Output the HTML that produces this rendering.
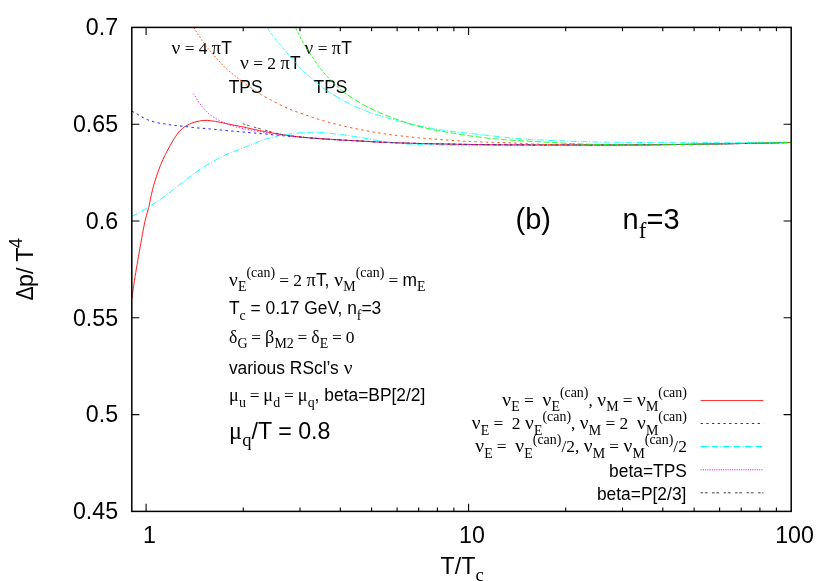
<!DOCTYPE html>
<html><head><meta charset="utf-8"><title>plot</title>
<style>html,body{margin:0;padding:0;background:#fff}body{width:830px;height:581px;overflow:hidden;font-family:"Liberation Sans",sans-serif}text{white-space:pre}.h{font-family:"Liberation Sans",sans-serif}.s{font-family:"Liberation Serif",serif}</style></head>
<body>
<svg width="830" height="581" viewBox="0 0 830 581" style="display:block;will-change:transform">
<rect width="830" height="581" fill="#fff"/>
<g fill="#000">
<text class="h" transform="translate(118.10 35.20) scale(1 1.03)" font-size="23.20" text-anchor="end">0.7</text>
<text class="h" transform="translate(118.10 132.00) scale(1 1.03)" font-size="23.20" text-anchor="end">0.65</text>
<text class="h" transform="translate(118.10 228.80) scale(1 1.03)" font-size="23.20" text-anchor="end">0.6</text>
<text class="h" transform="translate(118.10 325.60) scale(1 1.03)" font-size="23.20" text-anchor="end">0.55</text>
<text class="h" transform="translate(118.10 422.40) scale(1 1.03)" font-size="23.20" text-anchor="end">0.5</text>
<text class="h" transform="translate(118.10 519.20) scale(1 1.03)" font-size="23.20" text-anchor="end">0.45</text>
<text class="h" transform="translate(149.40 542.80) scale(1 1.03)" font-size="23.20" text-anchor="middle">1</text>
<text class="h" transform="translate(471.95 542.80) scale(1 1.03)" font-size="23.20" text-anchor="middle">10</text>
<text class="h" transform="translate(794.50 542.80) scale(1 1.03)" font-size="23.20" text-anchor="middle">100</text>
<text class="h" transform="translate(440.60 574.20) scale(1 1.03)" font-size="23.20" textLength="34.79" lengthAdjust="spacingAndGlyphs">T/T</text>
<text class="s" x="475.39" y="581.16" font-size="18.56">c</text>
<text class="s" x="171.49" y="54.10" font-size="18.79" textLength="8.79" lengthAdjust="spacingAndGlyphs">ν</text>
<text class="s" x="184.69" y="54.10" font-size="17.40">=</text>
<text class="s" x="198.72" y="54.10" font-size="17.40">4</text>
<text class="s" x="211.86" y="54.10" font-size="18.79" textLength="9.27" lengthAdjust="spacingAndGlyphs">π</text>
<text class="h" transform="translate(221.32 54.10) scale(1 1.03)" font-size="17.40">T</text>
<text class="s" x="240.09" y="69.00" font-size="18.79" textLength="8.79" lengthAdjust="spacingAndGlyphs">ν</text>
<text class="s" x="253.29" y="69.00" font-size="17.40">=</text>
<text class="s" x="267.32" y="69.00" font-size="17.40">2</text>
<text class="s" x="280.46" y="69.00" font-size="18.79" textLength="9.27" lengthAdjust="spacingAndGlyphs">π</text>
<text class="h" transform="translate(289.92 69.00) scale(1 1.03)" font-size="17.40">T</text>
<text class="s" x="304.49" y="54.10" font-size="18.79" textLength="8.79" lengthAdjust="spacingAndGlyphs">ν</text>
<text class="s" x="317.69" y="54.10" font-size="17.40">=</text>
<text class="s" x="331.81" y="54.10" font-size="18.79" textLength="9.27" lengthAdjust="spacingAndGlyphs">π</text>
<text class="h" transform="translate(341.27 54.10) scale(1 1.03)" font-size="17.40">T</text>
<text class="h" transform="translate(228.70 93.30) scale(1 1.03)" font-size="17.40" textLength="33.84" lengthAdjust="spacingAndGlyphs">TPS</text>
<text class="h" transform="translate(313.60 93.30) scale(1 1.03)" font-size="17.40" textLength="33.84" lengthAdjust="spacingAndGlyphs">TPS</text>
<text class="s" x="228.99" y="285.50" font-size="18.79" textLength="8.79" lengthAdjust="spacingAndGlyphs">ν</text>
<text class="s" x="237.97" y="290.72" font-size="13.92">E</text>
<text class="s" x="246.47" y="276.80" font-size="13.92" textLength="28.59" lengthAdjust="spacingAndGlyphs">(can)</text>
<text class="s" x="279.28" y="285.50" font-size="17.40">=</text>
<text class="s" x="293.31" y="285.50" font-size="17.40">2</text>
<text class="s" x="306.45" y="285.50" font-size="18.79" textLength="9.27" lengthAdjust="spacingAndGlyphs">π</text>
<text class="h" transform="translate(315.91 285.50) scale(1 1.03)" font-size="17.40" textLength="18.37" lengthAdjust="spacingAndGlyphs">T, </text>
<text class="s" x="334.37" y="285.50" font-size="18.79" textLength="8.79" lengthAdjust="spacingAndGlyphs">ν</text>
<text class="s" x="343.35" y="290.72" font-size="13.92">M</text>
<text class="s" x="355.72" y="276.80" font-size="13.92" textLength="28.59" lengthAdjust="spacingAndGlyphs">(can)</text>
<text class="s" x="388.53" y="285.50" font-size="17.40">=</text>
<text class="h" transform="translate(402.56 285.50) scale(1 1.03)" font-size="17.40">m</text>
<text class="s" x="417.06" y="290.72" font-size="13.92">E</text>
<text class="h" transform="translate(228.90 314.30) scale(1 1.03)" font-size="17.40">T</text>
<text class="s" x="239.53" y="319.52" font-size="13.92">c</text>
<text class="h" transform="translate(245.71 314.30) scale(1 1.03)" font-size="17.40" textLength="111.10" lengthAdjust="spacingAndGlyphs"> = 0.17 GeV, n</text>
<text class="s" x="356.80" y="319.52" font-size="13.92">f</text>
<text class="h" transform="translate(361.44 314.30) scale(1 1.03)" font-size="17.40" textLength="19.84" lengthAdjust="spacingAndGlyphs">=3</text>
<text class="s" x="228.99" y="343.10" font-size="18.79" textLength="8.34" lengthAdjust="spacingAndGlyphs">δ</text>
<text class="s" x="237.50" y="348.32" font-size="13.92">G</text>
<text class="s" x="251.33" y="343.10" font-size="17.40">=</text>
<text class="s" x="265.03" y="343.10" font-size="18.79" textLength="9.27" lengthAdjust="spacingAndGlyphs">β</text>
<text class="s" x="274.48" y="348.32" font-size="13.92" textLength="19.34" lengthAdjust="spacingAndGlyphs">M2</text>
<text class="s" x="297.61" y="343.10" font-size="17.40">=</text>
<text class="s" x="311.29" y="343.10" font-size="18.79" textLength="8.34" lengthAdjust="spacingAndGlyphs">δ</text>
<text class="s" x="319.80" y="348.32" font-size="13.92">E</text>
<text class="s" x="332.09" y="343.10" font-size="17.40">=</text>
<text class="s" x="345.68" y="343.10" font-size="17.40">0</text>
<text class="h" transform="translate(228.90 373.50) scale(1 1.03)" font-size="17.40" textLength="114.75" lengthAdjust="spacingAndGlyphs">various RScl’s </text>
<text class="s" x="343.74" y="373.50" font-size="18.79" textLength="8.79" lengthAdjust="spacingAndGlyphs">ν</text>
<text class="s" x="229.00" y="401.40" font-size="18.79" textLength="9.72" lengthAdjust="spacingAndGlyphs">μ</text>
<text class="s" x="238.92" y="406.62" font-size="13.92">u</text>
<text class="s" x="249.67" y="401.40" font-size="17.40">=</text>
<text class="s" x="263.37" y="401.40" font-size="18.79" textLength="9.72" lengthAdjust="spacingAndGlyphs">μ</text>
<text class="s" x="273.29" y="406.62" font-size="13.92">d</text>
<text class="s" x="284.03" y="401.40" font-size="17.40">=</text>
<text class="s" x="297.73" y="401.40" font-size="18.79" textLength="9.72" lengthAdjust="spacingAndGlyphs">μ</text>
<text class="s" x="307.65" y="406.62" font-size="13.92">q</text>
<text class="h" transform="translate(314.61 401.40) scale(1 1.03)" font-size="17.40" textLength="110.76" lengthAdjust="spacingAndGlyphs">, beta=BP[2/2]</text>
<text class="s" x="229.03" y="439.30" font-size="25.06" textLength="12.96" lengthAdjust="spacingAndGlyphs">μ</text>
<text class="s" x="242.26" y="446.26" font-size="18.56">q</text>
<text class="h" transform="translate(251.54 439.30) scale(1 1.03)" font-size="23.20" textLength="78.89" lengthAdjust="spacingAndGlyphs">/T = 0.8</text>
<text class="s" x="502.24" y="406.10" font-size="18.79" textLength="8.79" lengthAdjust="spacingAndGlyphs">ν</text>
<text class="s" x="511.21" y="411.32" font-size="13.92">E</text>
<text class="s" x="523.94" y="406.10" font-size="17.40">=</text>
<text class="s" x="542.41" y="406.10" font-size="18.79" textLength="8.79" lengthAdjust="spacingAndGlyphs">ν</text>
<text class="s" x="551.38" y="411.32" font-size="13.92">E</text>
<text class="s" x="559.89" y="397.40" font-size="13.92" textLength="28.59" lengthAdjust="spacingAndGlyphs">(can)</text>
<text class="s" x="588.47" y="406.10" font-size="17.40">,</text>
<text class="s" x="597.27" y="406.10" font-size="18.79" textLength="8.79" lengthAdjust="spacingAndGlyphs">ν</text>
<text class="s" x="606.24" y="411.32" font-size="13.92">M</text>
<text class="s" x="622.84" y="406.10" font-size="17.40">=</text>
<text class="s" x="636.96" y="406.10" font-size="18.79" textLength="8.79" lengthAdjust="spacingAndGlyphs">ν</text>
<text class="s" x="645.94" y="411.32" font-size="13.92">M</text>
<text class="s" x="658.31" y="397.40" font-size="13.92" textLength="28.59" lengthAdjust="spacingAndGlyphs">(can)</text>
<text class="s" x="471.79" y="429.40" font-size="18.79" textLength="8.79" lengthAdjust="spacingAndGlyphs">ν</text>
<text class="s" x="480.76" y="434.62" font-size="13.92">E</text>
<text class="s" x="493.49" y="429.40" font-size="17.40">=</text>
<text class="s" x="511.87" y="429.40" font-size="17.40">2</text>
<text class="s" x="525.01" y="429.40" font-size="18.79" textLength="8.79" lengthAdjust="spacingAndGlyphs">ν</text>
<text class="s" x="533.98" y="434.62" font-size="13.92">E</text>
<text class="s" x="542.49" y="420.70" font-size="13.92" textLength="28.59" lengthAdjust="spacingAndGlyphs">(can)</text>
<text class="s" x="571.07" y="429.40" font-size="17.40">,</text>
<text class="s" x="579.87" y="429.40" font-size="18.79" textLength="8.79" lengthAdjust="spacingAndGlyphs">ν</text>
<text class="s" x="588.84" y="434.62" font-size="13.92">M</text>
<text class="s" x="605.44" y="429.40" font-size="17.40">=</text>
<text class="s" x="619.47" y="429.40" font-size="17.40">2</text>
<text class="s" x="636.96" y="429.40" font-size="18.79" textLength="8.79" lengthAdjust="spacingAndGlyphs">ν</text>
<text class="s" x="645.94" y="434.62" font-size="13.92">M</text>
<text class="s" x="658.31" y="420.70" font-size="13.92" textLength="28.59" lengthAdjust="spacingAndGlyphs">(can)</text>
<text class="s" x="475.16" y="452.30" font-size="18.79" textLength="8.79" lengthAdjust="spacingAndGlyphs">ν</text>
<text class="s" x="484.14" y="457.52" font-size="13.92">E</text>
<text class="s" x="496.86" y="452.30" font-size="17.40">=</text>
<text class="s" x="515.33" y="452.30" font-size="18.79" textLength="8.79" lengthAdjust="spacingAndGlyphs">ν</text>
<text class="s" x="524.31" y="457.52" font-size="13.92">E</text>
<text class="s" x="532.81" y="443.60" font-size="13.92" textLength="28.59" lengthAdjust="spacingAndGlyphs">(can)</text>
<text class="s" x="561.40" y="452.30" font-size="17.40">/</text>
<text class="s" x="566.24" y="452.30" font-size="17.40">2</text>
<text class="s" x="574.94" y="452.30" font-size="17.40">,</text>
<text class="s" x="583.73" y="452.30" font-size="18.79" textLength="8.79" lengthAdjust="spacingAndGlyphs">ν</text>
<text class="s" x="592.70" y="457.52" font-size="13.92">M</text>
<text class="s" x="609.30" y="452.30" font-size="17.40">=</text>
<text class="s" x="623.42" y="452.30" font-size="18.79" textLength="8.79" lengthAdjust="spacingAndGlyphs">ν</text>
<text class="s" x="632.40" y="457.52" font-size="13.92">M</text>
<text class="s" x="644.78" y="443.60" font-size="13.92" textLength="28.59" lengthAdjust="spacingAndGlyphs">(can)</text>
<text class="s" x="673.36" y="452.30" font-size="17.40">/</text>
<text class="s" x="678.20" y="452.30" font-size="17.40">2</text>
<text class="h" transform="translate(609.03 477.10) scale(1 1.03)" font-size="17.40" textLength="77.87" lengthAdjust="spacingAndGlyphs">beta=TPS</text>
<text class="h" transform="translate(596.91 500.20) scale(1 1.03)" font-size="17.40" textLength="89.49" lengthAdjust="spacingAndGlyphs">beta=P[2/3]</text>
<text class="h" transform="translate(515.50 229.00) scale(1 1.03)" font-size="29.00" textLength="35.44" lengthAdjust="spacingAndGlyphs">(b)</text>
<text class="h" transform="translate(622.60 229.00) scale(1 1.03)" font-size="29.00">n</text>
<text class="s" x="638.73" y="237.70" font-size="23.20">f</text>
<text class="h" transform="translate(646.45 229.00) scale(1 1.03)" font-size="29.00" textLength="33.06" lengthAdjust="spacingAndGlyphs">=3</text>
<g transform="translate(32.8,300.6) rotate(-90)">
<text class="h" transform="translate(0.00 0.00) scale(1 1.03)" font-size="23.20" textLength="14.20" lengthAdjust="spacingAndGlyphs">Δ</text>
<text class="h" transform="translate(13.60 0.00) scale(1 1.03)" font-size="23.20">p/ T</text>
<text class="h" transform="translate(52.35 -10.60) scale(1 1.03)" font-size="18.56">4</text>
</g>
</g>
<g fill="none" stroke-width="0.9" stroke-linejoin="round">
<path d="M131.9,298.6 L132.2,296.0 L132.6,293.3 L133.0,290.7 L133.3,288.1 L133.7,285.5 L134.1,282.9 L134.5,280.2 L134.9,277.6 L135.3,275.0 L135.8,272.4 L136.2,269.8 L136.6,267.2 L137.1,264.6 L137.5,262.0 L138.0,259.3 L138.4,256.7 L138.9,254.1 L139.3,251.5 L139.8,248.9 L140.3,246.3 L140.8,243.7 L141.2,241.1 L141.7,238.5 L142.1,235.9 L142.6,233.3 L143.1,230.7 L143.6,228.1 L144.1,225.5 L144.6,222.9 L145.2,220.3 L145.9,217.7 L146.6,215.2 L147.3,212.6 L148.0,210.1 L148.7,207.5 L149.3,204.9 L149.8,202.4 L150.3,199.7 L150.8,197.1 L151.4,194.6 L152.0,192.0 L152.6,189.4 L153.3,186.8 L154.0,184.3 L154.8,181.8 L155.6,179.2 L156.4,176.7 L157.2,174.2 L158.1,171.7 L159.0,169.2 L159.9,166.7 L160.9,164.3 L161.9,161.8 L163.0,159.4 L164.1,157.0 L165.3,154.6 L166.5,152.3 L167.7,149.9 L169.0,147.6 L170.3,145.3 L171.6,143.0 L173.0,140.7 L174.3,138.4 L175.8,136.2 L177.3,134.0 L178.9,131.9 L180.7,130.0 L182.7,128.3 L184.9,126.7 L187.2,125.3 L189.5,124.1 L191.9,123.0 L194.4,122.2 L197.0,121.5 L199.6,121.0 L202.2,120.6 L204.9,120.4 L207.5,120.4 L210.1,120.7 L212.8,121.0 L215.4,121.4 L218.0,121.9 L220.6,122.4 L223.2,122.9 L225.8,123.5 L228.4,124.0 L231.0,124.5 L233.6,125.1 L236.2,125.6 L238.8,126.1 L241.4,126.6 L244.0,127.1 L246.5,127.7 L249.1,128.3 L251.7,128.9 L254.3,129.5 L256.9,130.0 L259.5,130.5 L262.1,131.0 L264.7,131.5 L267.3,132.0 L269.9,132.5 L272.5,133.0 L275.1,133.4 L277.7,133.9 L280.3,134.3 L282.9,134.7 L285.6,135.1 L288.2,135.5 L290.8,135.9 L293.4,136.2 L296.1,136.5 L298.7,136.8 L301.3,137.1 L304.0,137.4 L306.6,137.6 L309.2,137.8 L311.9,138.1 L314.5,138.3 L317.2,138.5 L319.8,138.6 L322.4,138.8 L325.1,139.0 L327.7,139.2 L330.4,139.3 L333.0,139.5 L335.7,139.7 L338.3,139.8 L340.9,140.0 L343.6,140.1 L346.2,140.3 L348.9,140.4 L351.5,140.6 L354.2,140.7 L356.8,140.8 L359.5,141.0 L362.1,141.1 L364.7,141.3 L367.4,141.4 L370.0,141.6 L372.7,141.7 L375.3,141.9 L378.0,142.0 L380.6,142.1 L383.2,142.3 L385.9,142.4 L388.5,142.5 L391.2,142.6 L393.8,142.7 L396.5,142.8 L399.1,142.9 L401.8,143.0 L404.4,143.1 L407.1,143.1 L409.7,143.2 L412.4,143.3 L415.0,143.4 L417.7,143.4 L420.3,143.5 L422.9,143.6 L425.6,143.6 L428.2,143.7 L430.9,143.7 L433.5,143.8 L436.2,143.9 L438.8,143.9 L441.5,144.0 L444.1,144.0 L446.8,144.1 L449.4,144.1 L452.1,144.2 L454.7,144.2 L457.4,144.3 L460.0,144.3 L462.7,144.4 L465.3,144.4 L468.0,144.4 L470.6,144.5 L473.3,144.5 L475.9,144.5 L478.5,144.6 L481.2,144.6 L483.8,144.6 L486.5,144.7 L489.1,144.7 L491.8,144.7 L494.4,144.8 L497.1,144.8 L499.7,144.8 L502.4,144.8 L505.0,144.8 L507.7,144.9 L510.3,144.9 L513.0,144.9 L515.6,144.9 L518.3,144.9 L520.9,144.9 L523.6,144.9 L526.2,144.9 L528.9,144.9 L531.5,145.0 L534.2,145.0 L536.8,145.0 L539.5,145.0 L542.1,145.0 L544.7,145.0 L547.4,145.0 L550.0,145.0 L552.7,145.0 L555.3,145.0 L558.0,145.0 L560.6,145.0 L563.3,145.0 L565.9,145.0 L568.6,145.0 L571.2,145.0 L573.9,145.0 L576.5,145.0 L579.2,145.0 L581.8,145.0 L584.5,145.0 L587.1,145.0 L589.8,145.0 L592.4,145.0 L595.1,145.0 L597.7,145.0 L600.4,145.0 L603.0,145.0 L605.7,145.0 L608.3,145.0 L611.0,145.0 L613.6,145.0 L616.2,145.0 L618.9,145.0 L621.5,144.9 L624.2,144.9 L626.8,144.9 L629.5,144.9 L632.1,144.9 L634.8,144.9 L637.4,144.9 L640.1,144.8 L642.7,144.8 L645.4,144.8 L648.0,144.8 L650.7,144.8 L653.3,144.7 L656.0,144.7 L658.6,144.7 L661.3,144.7 L663.9,144.6 L666.6,144.6 L669.2,144.6 L671.9,144.5 L674.5,144.5 L677.2,144.5 L679.8,144.5 L682.4,144.4 L685.1,144.4 L687.7,144.4 L690.4,144.3 L693.0,144.3 L695.7,144.2 L698.3,144.2 L701.0,144.2 L703.6,144.1 L706.3,144.1 L708.9,144.0 L711.6,144.0 L714.2,144.0 L716.9,143.9 L719.5,143.9 L722.2,143.8 L724.8,143.8 L727.5,143.7 L730.1,143.7 L732.8,143.7 L735.4,143.6 L738.0,143.6 L740.7,143.5 L743.3,143.5 L746.0,143.4 L748.6,143.4 L751.3,143.3 L753.9,143.3 L756.6,143.2 L759.2,143.2 L761.9,143.1 L764.5,143.1 L767.2,143.0 L769.8,142.9 L772.5,142.9 L775.1,142.8 L777.8,142.8 L780.4,142.7 L783.1,142.7 L785.7,142.6 L788.4,142.6 L791.0,142.5" stroke="#ff0000"/>
<path d="M131.7,111.2 L133.7,112.1 L135.7,113.2 L137.6,114.3 L139.5,115.5 L141.3,116.6 L143.3,117.7 L145.3,118.7 L147.3,119.6 L149.4,120.4 L151.5,121.1 L153.6,121.7 L155.8,122.3 L157.9,122.8 L160.1,123.3 L162.3,123.6 L164.5,123.9 L166.7,124.3 L168.8,124.6 L171.0,125.0 L173.2,125.4 L175.4,125.6 L177.6,125.8 L179.8,126.0 L182.0,126.1 L184.3,126.3 L186.5,126.6 L188.6,126.9 L190.8,127.2 L193.1,127.5 L195.3,127.7 L197.5,127.9 L199.7,128.1 L201.9,128.3 L204.1,128.4 L206.3,128.6 L208.5,128.8 L210.7,129.0 L212.9,129.2 L215.1,129.4 L217.3,129.6 L219.5,129.9 L221.7,130.1 L224.0,130.3 L226.2,130.5 L228.4,130.8 L230.6,131.0 L232.8,131.1 L235.0,131.3 L237.2,131.5 L239.4,131.7 L241.6,131.9 L243.8,132.1 L246.0,132.3 L248.2,132.5 L250.5,132.7 L252.7,132.9 L254.9,133.1 L257.1,133.3 L259.3,133.5 L261.5,133.7 L263.7,133.9 L265.9,134.1 L268.1,134.3 L270.3,134.5 L272.5,134.8 L274.7,135.0 L276.9,135.2 L279.1,135.4 L281.4,135.6 L283.6,135.8 L285.8,136.0 L288.0,136.2 L290.2,136.3 L292.4,136.5 L294.6,136.7 L296.8,136.8 L299.0,137.0 L301.2,137.2 L303.5,137.4 L305.7,137.6 L307.9,137.7 L310.1,137.9 L312.3,138.1 L314.5,138.3 L316.7,138.4 L318.9,138.6 L321.1,138.7 L323.4,138.9 L325.6,139.0 L327.8,139.2 L330.0,139.3 L332.2,139.5 L334.4,139.6 L336.6,139.7 L338.8,139.9 L341.1,140.0 L343.3,140.1 L345.5,140.2 L347.7,140.4 L349.9,140.5 L352.1,140.6 L354.3,140.7 L356.5,140.8 L358.8,140.9 L361.0,141.1 L363.2,141.2 L365.4,141.3 L367.6,141.4 L369.8,141.5 L372.0,141.7 L374.3,141.8 L376.5,141.9 L378.7,142.0 L380.9,142.1 L383.1,142.3 L385.3,142.4 L387.5,142.5 L389.8,142.6 L392.0,142.6 L394.2,142.7 L396.4,142.8 L398.6,142.9 L400.8,143.0 L403.1,143.0 L405.3,143.1 L407.5,143.2 L409.7,143.2 L411.9,143.3 L414.1,143.3 L416.4,143.4 L418.6,143.5 L420.8,143.5 L423.0,143.6 L425.2,143.6 L427.4,143.7 L429.6,143.7 L431.9,143.8 L434.1,143.8 L436.3,143.9 L438.5,143.9 L440.7,143.9 L442.9,144.0 L445.2,144.0 L447.4,144.1 L449.6,144.1 L451.8,144.2 L454.0,144.2 L456.2,144.2 L458.5,144.3 L460.7,144.3 L462.9,144.4 L465.1,144.4 L467.3,144.4 L469.5,144.5 L471.8,144.5 L474.0,144.5 L476.2,144.6 L478.4,144.6 L480.6,144.6 L482.9,144.6 L485.1,144.7 L487.3,144.7 L489.5,144.7 L491.7,144.7 L493.9,144.7 L496.2,144.8 L498.4,144.8 L500.6,144.8 L502.8,144.8 L505.0,144.8 L507.2,144.8 L509.5,144.9 L511.7,144.9 L513.9,144.9 L516.1,144.9 L518.3,144.9 L520.5,144.9 L522.8,144.9 L525.0,144.9 L527.2,144.9 L529.4,144.9 L531.6,145.0 L533.8,145.0 L536.1,145.0 L538.3,145.0 L540.5,145.0 L542.7,145.0 L544.9,145.0 L547.1,145.0 L549.4,145.0 L551.6,145.0 L553.8,145.0 L556.0,145.0 L558.2,145.0 L560.4,145.0 L562.7,145.0 L564.9,145.0 L567.1,145.0 L569.3,145.0 L571.5,145.0 L573.7,145.0 L576.0,145.0 L578.2,145.0 L580.4,145.0 L582.6,145.0 L584.8,145.0 L587.1,145.0 L589.3,145.0 L591.5,145.0 L593.7,145.0 L595.9,145.0 L598.1,145.0 L600.4,145.0 L602.6,145.0 L604.8,145.0 L607.0,145.0 L609.2,145.0 L611.4,145.0 L613.7,145.0 L615.9,145.0 L618.1,145.0 L620.3,144.9 L622.5,144.9 L624.7,144.9 L627.0,144.9 L629.2,144.9 L631.4,144.9 L633.6,144.9 L635.8,144.9 L638.0,144.9 L640.3,144.8 L642.5,144.8 L644.7,144.8 L646.9,144.8 L649.1,144.8 L651.3,144.7 L653.6,144.7 L655.8,144.7 L658.0,144.7 L660.2,144.7 L662.4,144.6 L664.6,144.6 L666.9,144.6 L669.1,144.6 L671.3,144.6 L673.5,144.5 L675.7,144.5 L677.9,144.5 L680.2,144.4 L682.4,144.4 L684.6,144.4 L686.8,144.4 L689.0,144.3 L691.2,144.3 L693.5,144.3 L695.7,144.2 L697.9,144.2 L700.1,144.2 L702.3,144.1 L704.6,144.1 L706.8,144.1 L709.0,144.0 L711.2,144.0 L713.4,144.0 L715.6,143.9 L717.9,143.9 L720.1,143.9 L722.3,143.8 L724.5,143.8 L726.7,143.8 L728.9,143.7 L731.2,143.7 L733.4,143.6 L735.6,143.6 L737.8,143.6 L740.0,143.5 L742.2,143.5 L744.5,143.4 L746.7,143.4 L748.9,143.4 L751.1,143.3 L753.3,143.3 L755.5,143.2 L757.8,143.2 L760.0,143.1 L762.2,143.1 L764.4,143.1 L766.6,143.0 L768.8,143.0 L771.1,142.9 L773.3,142.9 L775.5,142.8 L777.7,142.8 L779.9,142.7 L782.1,142.7 L784.4,142.6 L786.6,142.6 L788.8,142.5 L791.0,142.5" stroke="#0000ff" stroke-dasharray="2.4,3.3"/>
<path d="M131.9,216.6 L133.9,215.5 L135.9,214.3 L137.9,213.2 L139.8,212.1 L141.8,211.0 L143.8,209.8 L145.8,208.7 L147.7,207.5 L149.7,206.3 L151.6,205.1 L153.5,203.9 L155.4,202.6 L157.3,201.4 L159.2,200.1 L161.1,198.8 L163.0,197.5 L164.8,196.1 L166.7,194.8 L168.5,193.4 L170.3,192.0 L172.1,190.6 L173.9,189.2 L175.6,187.8 L177.4,186.3 L179.2,184.9 L181.0,183.5 L182.9,182.2 L184.7,180.8 L186.5,179.4 L188.4,178.1 L190.2,176.7 L192.0,175.3 L193.8,173.9 L195.6,172.6 L197.5,171.2 L199.4,169.9 L201.3,168.7 L203.2,167.4 L205.1,166.2 L207.1,165.0 L209.0,163.8 L211.0,162.7 L212.9,161.5 L214.9,160.4 L216.9,159.2 L218.9,158.2 L220.9,157.1 L223.0,156.1 L225.0,155.1 L227.1,154.1 L229.2,153.3 L231.3,152.4 L233.5,151.6 L235.6,150.8 L237.7,150.0 L239.9,149.2 L242.0,148.4 L244.1,147.6 L246.2,146.7 L248.3,145.8 L250.4,144.9 L252.5,144.0 L254.6,143.1 L256.8,142.3 L258.9,141.5 L261.0,140.7 L263.2,139.9 L265.4,139.2 L267.5,138.5 L269.7,137.9 L271.9,137.3 L274.2,136.8 L276.4,136.3 L278.6,135.8 L280.9,135.4 L283.1,135.0 L285.4,134.7 L287.6,134.3 L289.9,134.0 L292.2,133.7 L294.4,133.5 L296.7,133.2 L299.0,133.0 L301.2,132.8 L303.5,132.6 L305.8,132.5 L308.1,132.4 L310.4,132.3 L312.6,132.3 L314.9,132.3 L317.2,132.4 L319.5,132.5 L321.8,132.7 L324.0,132.9 L326.3,133.1 L328.6,133.3 L330.9,133.5 L333.1,133.7 L335.4,133.9 L337.7,134.2 L339.9,134.4 L342.2,134.7 L344.5,135.0 L346.7,135.3 L349.0,135.6 L351.2,136.0 L353.5,136.3 L355.7,136.7 L358.0,137.1 L360.2,137.4 L362.5,137.8 L364.7,138.2 L367.0,138.6 L369.2,139.0 L371.5,139.4 L373.7,139.8 L376.0,140.2 L378.2,140.6 L380.5,140.9 L382.7,141.3 L385.0,141.6 L387.3,141.9 L389.5,142.2 L391.8,142.5 L394.0,142.8 L396.3,143.0 L398.6,143.3 L400.9,143.5 L403.1,143.7 L405.4,143.8 L407.7,144.0 L410.0,144.1 L412.2,144.3 L414.5,144.4 L416.8,144.5 L419.1,144.6 L421.4,144.6 L423.6,144.7 L425.9,144.8 L428.2,144.8 L430.5,144.9 L432.8,144.9 L435.1,144.9 L437.3,145.0 L439.6,145.0 L441.9,145.1 L444.2,145.1 L446.5,145.1 L448.7,145.2 L451.0,145.2 L453.3,145.2 L455.6,145.2 L457.9,145.3 L460.2,145.3 L462.4,145.3 L464.7,145.4 L467.0,145.4 L469.3,145.4 L471.6,145.4 L473.8,145.4 L476.1,145.5 L478.4,145.5 L480.7,145.5 L483.0,145.5 L485.3,145.5 L487.5,145.5 L489.8,145.6 L492.1,145.6 L494.4,145.6 L496.7,145.6 L498.9,145.6 L501.2,145.6 L503.5,145.6 L505.8,145.6 L508.1,145.6 L510.4,145.6 L512.6,145.6 L514.9,145.6 L517.2,145.6 L519.5,145.6 L521.8,145.6 L524.0,145.6 L526.3,145.6 L528.6,145.6 L530.9,145.6 L533.2,145.6 L535.5,145.6 L537.7,145.6 L540.0,145.5 L542.3,145.5 L544.6,145.5 L546.9,145.5 L549.1,145.5 L551.4,145.5 L553.7,145.5 L556.0,145.5 L558.3,145.5 L560.6,145.5 L562.8,145.5 L565.1,145.4 L567.4,145.4 L569.7,145.4 L572.0,145.4 L574.2,145.4 L576.5,145.4 L578.8,145.4 L581.1,145.4 L583.4,145.3 L585.7,145.3 L587.9,145.3 L590.2,145.3 L592.5,145.3 L594.8,145.3 L597.1,145.3 L599.3,145.2 L601.6,145.2 L603.9,145.2 L606.2,145.2 L608.5,145.2 L610.8,145.2 L613.0,145.1 L615.3,145.1 L617.6,145.1 L619.9,145.1 L622.2,145.1 L624.4,145.0 L626.7,145.0 L629.0,145.0 L631.3,145.0 L633.6,145.0 L635.9,144.9 L638.1,144.9 L640.4,144.9 L642.7,144.9 L645.0,144.9 L647.3,144.8 L649.5,144.8 L651.8,144.8 L654.1,144.8 L656.4,144.7 L658.7,144.7 L661.0,144.7 L663.2,144.7 L665.5,144.6 L667.8,144.6 L670.1,144.6 L672.4,144.6 L674.6,144.5 L676.9,144.5 L679.2,144.5 L681.5,144.4 L683.8,144.4 L686.1,144.4 L688.3,144.3 L690.6,144.3 L692.9,144.3 L695.2,144.2 L697.5,144.2 L699.7,144.2 L702.0,144.2 L704.3,144.1 L706.6,144.1 L708.9,144.0 L711.1,144.0 L713.4,144.0 L715.7,143.9 L718.0,143.9 L720.3,143.9 L722.6,143.8 L724.8,143.8 L727.1,143.8 L729.4,143.7 L731.7,143.7 L734.0,143.6 L736.2,143.6 L738.5,143.6 L740.8,143.5 L743.1,143.5 L745.4,143.4 L747.7,143.4 L749.9,143.3 L752.2,143.3 L754.5,143.3 L756.8,143.2 L759.1,143.2 L761.3,143.1 L763.6,143.1 L765.9,143.0 L768.2,143.0 L770.5,142.9 L772.7,142.9 L775.0,142.8 L777.3,142.8 L779.6,142.8 L781.9,142.7 L784.2,142.7 L786.4,142.6 L788.7,142.6 L791.0,142.5" stroke="#00ffff" stroke-dasharray="6.5,1.5,1,2"/>
<path d="M193.2,93.5 L194.5,95.1 L195.6,96.8 L196.6,98.6 L197.7,100.4 L198.7,102.1 L199.9,103.8 L201.1,105.4 L202.4,107.0 L203.8,108.5 L205.2,110.1 L206.6,111.5 L208.0,113.0 L209.6,114.3 L211.2,115.5 L212.9,116.7 L214.7,117.8 L216.4,118.9 L218.2,119.9 L220.0,120.9 L221.8,121.8 L223.7,122.6 L225.6,123.4 L227.5,124.2 L229.4,124.8 L231.3,125.5 L233.3,126.1 L235.3,126.6 L237.2,127.2 L239.2,127.7 L241.2,128.2 L243.2,128.7 L245.2,129.1 L247.2,129.5 L249.2,129.9 L251.2,130.2 L253.3,130.6 L255.3,130.9 L257.3,131.3 L259.3,131.6 L261.3,132.0 L263.3,132.3 L265.4,132.6 L267.4,133.0 L269.4,133.3 L271.4,133.6 L273.5,133.9 L275.5,134.2 L277.5,134.4 L279.5,134.7 L281.6,135.0 L283.6,135.2 L285.6,135.5 L287.7,135.7 L289.7,135.9 L291.7,136.2 L293.8,136.4 L295.8,136.6 L297.9,136.8 L299.9,137.0 L301.9,137.2 L304.0,137.4 L306.0,137.6 L308.0,137.8 L310.1,137.9 L312.1,138.1 L314.2,138.2 L316.2,138.4 L318.3,138.5 L320.3,138.7 L322.3,138.8 L324.4,138.9 L326.4,139.1 L328.5,139.2 L330.5,139.3 L332.6,139.5 L334.6,139.6 L336.6,139.7 L338.7,139.9 L340.7,140.0 L342.8,140.1 L344.8,140.2 L346.9,140.3 L348.9,140.4 L350.9,140.5 L353.0,140.6 L355.0,140.7 L357.1,140.8 L359.1,141.0 L361.2,141.1 L363.2,141.2 L365.3,141.3 L367.3,141.4 L369.3,141.5 L371.4,141.6 L373.4,141.8 L375.5,141.9 L377.5,142.0 L379.6,142.1 L381.6,142.2 L383.7,142.3 L385.7,142.4 L387.7,142.5 L389.8,142.6 L391.8,142.6 L393.9,142.7 L395.9,142.8 L398.0,142.9 L400.0,142.9 L402.1,143.0 L404.1,143.1 L406.2,143.1 L408.2,143.2 L410.3,143.2 L412.3,143.3 L414.3,143.3 L416.4,143.4 L418.4,143.5 L420.5,143.5 L422.5,143.6 L424.6,143.6 L426.6,143.6 L428.7,143.7 L430.7,143.7 L432.8,143.8 L434.8,143.8 L436.9,143.9 L438.9,143.9 L441.0,144.0 L443.0,144.0 L445.0,144.0 L447.1,144.1 L449.1,144.1 L451.2,144.1 L453.2,144.2 L455.3,144.2 L457.3,144.3 L459.4,144.3 L461.4,144.3 L463.5,144.4 L465.5,144.4 L467.6,144.4 L469.6,144.5 L471.7,144.5 L473.7,144.5 L475.7,144.5 L477.8,144.6 L479.8,144.6 L481.9,144.6 L483.9,144.6 L486.0,144.7 L488.0,144.7 L490.1,144.7 L492.1,144.7 L494.2,144.7 L496.2,144.8 L498.3,144.8 L500.3,144.8 L502.4,144.8 L504.4,144.8 L506.5,144.8 L508.5,144.9 L510.5,144.9 L512.6,144.9 L514.6,144.9 L516.7,144.9 L518.7,144.9 L520.8,144.9 L522.8,144.9 L524.9,144.9 L526.9,144.9 L529.0,144.9 L531.0,145.0 L533.1,145.0 L535.1,145.0 L537.2,145.0 L539.2,145.0 L541.3,145.0 L543.3,145.0 L545.4,145.0 L547.4,145.0 L549.4,145.0 L551.5,145.0 L553.5,145.0 L555.6,145.0 L557.6,145.0 L559.7,145.0 L561.7,145.0 L563.8,145.0 L565.8,145.0 L567.9,145.0 L569.9,145.0 L572.0,145.0 L574.0,145.0 L576.1,145.0 L578.1,145.0 L580.2,145.0 L582.2,145.0 L584.2,145.0 L586.3,145.0 L588.3,145.0 L590.4,145.0 L592.4,145.0 L594.5,145.0 L596.5,145.0 L598.6,145.0 L600.6,145.0 L602.7,145.0 L604.7,145.0 L606.8,145.0 L608.8,145.0 L610.9,145.0 L612.9,145.0 L615.0,145.0 L617.0,145.0 L619.1,145.0 L621.1,144.9 L623.1,144.9 L625.2,144.9 L627.2,144.9 L629.3,144.9 L631.3,144.9 L633.4,144.9 L635.4,144.9 L637.5,144.9 L639.5,144.8 L641.6,144.8 L643.6,144.8 L645.7,144.8 L647.7,144.8 L649.8,144.8 L651.8,144.7 L653.9,144.7 L655.9,144.7 L657.9,144.7 L660.0,144.7 L662.0,144.6 L664.1,144.6 L666.1,144.6 L668.2,144.6 L670.2,144.6 L672.3,144.5 L674.3,144.5 L676.4,144.5 L678.4,144.5 L680.5,144.4 L682.5,144.4 L684.6,144.4 L686.6,144.4 L688.7,144.3 L690.7,144.3 L692.7,144.3 L694.8,144.3 L696.8,144.2 L698.9,144.2 L700.9,144.2 L703.0,144.1 L705.0,144.1 L707.1,144.1 L709.1,144.0 L711.2,144.0 L713.2,144.0 L715.3,143.9 L717.3,143.9 L719.4,143.9 L721.4,143.8 L723.5,143.8 L725.5,143.8 L727.5,143.7 L729.6,143.7 L731.6,143.7 L733.7,143.6 L735.7,143.6 L737.8,143.6 L739.8,143.5 L741.9,143.5 L743.9,143.5 L746.0,143.4 L748.0,143.4 L750.1,143.3 L752.1,143.3 L754.2,143.3 L756.2,143.2 L758.3,143.2 L760.3,143.1 L762.3,143.1 L764.4,143.1 L766.4,143.0 L768.5,143.0 L770.5,142.9 L772.6,142.9 L774.6,142.8 L776.7,142.8 L778.7,142.8 L780.8,142.7 L782.8,142.7 L784.9,142.6 L786.9,142.6 L789.0,142.5 L791.0,142.5" stroke="#ff00ff" stroke-dasharray="1.3,1.8"/>
<path d="M242.9,123.7 L244.6,124.3 L246.4,124.8 L248.2,125.4 L249.9,125.9 L251.7,126.5 L253.4,127.0 L255.2,127.5 L257.0,128.0 L258.8,128.4 L260.5,128.9 L262.3,129.3 L264.1,129.8 L265.9,130.3 L267.7,130.8 L269.4,131.3 L271.2,131.8 L273.0,132.3 L274.7,132.7 L276.5,133.2 L278.3,133.6 L280.1,134.0 L281.9,134.4 L283.7,134.8 L285.5,135.1 L287.3,135.4 L289.2,135.6 L291.0,135.9 L292.8,136.1 L294.6,136.3 L296.5,136.6 L298.3,136.8 L300.1,137.0 L302.0,137.1 L303.8,137.3 L305.6,137.5 L307.4,137.7 L309.3,137.8 L311.1,138.0 L312.9,138.2 L314.8,138.3 L316.6,138.4 L318.4,138.6 L320.3,138.7 L322.1,138.8 L324.0,138.9 L325.8,139.0 L327.6,139.2 L329.5,139.3 L331.3,139.4 L333.1,139.5 L335.0,139.6 L336.8,139.7 L338.6,139.8 L340.5,140.0 L342.3,140.1 L344.1,140.2 L346.0,140.3 L347.8,140.4 L349.7,140.5 L351.5,140.6 L353.3,140.6 L355.2,140.7 L357.0,140.8 L358.8,140.9 L360.7,141.0 L362.5,141.1 L364.4,141.2 L366.2,141.3 L368.0,141.4 L369.9,141.6 L371.7,141.7 L373.5,141.8 L375.4,141.9 L377.2,142.0 L379.0,142.1 L380.9,142.1 L382.7,142.2 L384.6,142.3 L386.4,142.4 L388.2,142.5 L390.1,142.6 L391.9,142.6 L393.7,142.7 L395.6,142.8 L397.4,142.8 L399.3,142.9 L401.1,143.0 L402.9,143.0 L404.8,143.1 L406.6,143.1 L408.5,143.2 L410.3,143.2 L412.1,143.3 L414.0,143.3 L415.8,143.4 L417.6,143.4 L419.5,143.5 L421.3,143.5 L423.2,143.6 L425.0,143.6 L426.8,143.7 L428.7,143.7 L430.5,143.7 L432.4,143.8 L434.2,143.8 L436.0,143.9 L437.9,143.9 L439.7,143.9 L441.5,144.0 L443.4,144.0 L445.2,144.0 L447.1,144.1 L448.9,144.1 L450.7,144.1 L452.6,144.2 L454.4,144.2 L456.3,144.2 L458.1,144.3 L459.9,144.3 L461.8,144.3 L463.6,144.4 L465.5,144.4 L467.3,144.4 L469.1,144.5 L471.0,144.5 L472.8,144.5 L474.7,144.5 L476.5,144.6 L478.3,144.6 L480.2,144.6 L482.0,144.6 L483.8,144.6 L485.7,144.7 L487.5,144.7 L489.4,144.7 L491.2,144.7 L493.0,144.7 L494.9,144.8 L496.7,144.8 L498.6,144.8 L500.4,144.8 L502.2,144.8 L504.1,144.8 L505.9,144.8 L507.8,144.9 L509.6,144.9 L511.4,144.9 L513.3,144.9 L515.1,144.9 L517.0,144.9 L518.8,144.9 L520.6,144.9 L522.5,144.9 L524.3,144.9 L526.2,144.9 L528.0,144.9 L529.8,145.0 L531.7,145.0 L533.5,145.0 L535.3,145.0 L537.2,145.0 L539.0,145.0 L540.9,145.0 L542.7,145.0 L544.5,145.0 L546.4,145.0 L548.2,145.0 L550.1,145.0 L551.9,145.0 L553.7,145.0 L555.6,145.0 L557.4,145.0 L559.3,145.0 L561.1,145.0 L562.9,145.0 L564.8,145.0 L566.6,145.0 L568.5,145.0 L570.3,145.0 L572.1,145.0 L574.0,145.0 L575.8,145.0 L577.7,145.0 L579.5,145.0 L581.3,145.0 L583.2,145.0 L585.0,145.0 L586.9,145.0 L588.7,145.0 L590.5,145.0 L592.4,145.0 L594.2,145.0 L596.0,145.0 L597.9,145.0 L599.7,145.0 L601.6,145.0 L603.4,145.0 L605.2,145.0 L607.1,145.0 L608.9,145.0 L610.8,145.0 L612.6,145.0 L614.4,145.0 L616.3,145.0 L618.1,145.0 L620.0,144.9 L621.8,144.9 L623.6,144.9 L625.5,144.9 L627.3,144.9 L629.2,144.9 L631.0,144.9 L632.8,144.9 L634.7,144.9 L636.5,144.9 L638.4,144.8 L640.2,144.8 L642.0,144.8 L643.9,144.8 L645.7,144.8 L647.5,144.8 L649.4,144.8 L651.2,144.7 L653.1,144.7 L654.9,144.7 L656.7,144.7 L658.6,144.7 L660.4,144.7 L662.3,144.6 L664.1,144.6 L665.9,144.6 L667.8,144.6 L669.6,144.6 L671.5,144.5 L673.3,144.5 L675.1,144.5 L677.0,144.5 L678.8,144.5 L680.7,144.4 L682.5,144.4 L684.3,144.4 L686.2,144.4 L688.0,144.3 L689.9,144.3 L691.7,144.3 L693.5,144.3 L695.4,144.2 L697.2,144.2 L699.0,144.2 L700.9,144.2 L702.7,144.1 L704.6,144.1 L706.4,144.1 L708.2,144.1 L710.1,144.0 L711.9,144.0 L713.8,144.0 L715.6,143.9 L717.4,143.9 L719.3,143.9 L721.1,143.9 L723.0,143.8 L724.8,143.8 L726.6,143.8 L728.5,143.7 L730.3,143.7 L732.2,143.7 L734.0,143.6 L735.8,143.6 L737.7,143.6 L739.5,143.5 L741.3,143.5 L743.2,143.5 L745.0,143.4 L746.9,143.4 L748.7,143.4 L750.5,143.3 L752.4,143.3 L754.2,143.3 L756.1,143.2 L757.9,143.2 L759.7,143.1 L761.6,143.1 L763.4,143.1 L765.3,143.0 L767.1,143.0 L768.9,143.0 L770.8,142.9 L772.6,142.9 L774.4,142.9 L776.3,142.8 L778.1,142.8 L780.0,142.7 L781.8,142.7 L783.6,142.7 L785.5,142.6 L787.3,142.6 L789.2,142.5 L791.0,142.5" stroke="#4a4a4a" stroke-dasharray="2.5,1.7,2.8,4.5"/>
<path d="M193.9,27.6 L194.7,29.0 L195.5,30.3 L196.4,31.7 L197.2,33.0 L198.0,34.4 L198.9,35.7 L199.8,37.0 L200.7,38.3 L201.6,39.7 L202.5,41.0 L203.4,42.2 L204.3,43.5 L205.3,44.8 L206.2,46.1 L207.2,47.3 L208.2,48.6 L209.2,49.8 L210.2,51.0 L211.2,52.3 L212.2,53.5 L213.3,54.7 L214.3,55.9 L215.4,57.0 L216.4,58.2 L217.5,59.4 L218.6,60.6 L219.6,61.7 L220.7,62.9 L221.8,64.1 L222.9,65.2 L224.0,66.3 L225.1,67.5 L226.3,68.6 L227.4,69.6 L228.6,70.7 L229.8,71.7 L231.1,72.7 L232.3,73.7 L233.6,74.7 L234.8,75.7 L236.0,76.7 L237.3,77.7 L238.5,78.7 L239.7,79.7 L241.0,80.7" stroke="#ff4d00" stroke-width="1.0" stroke-dasharray="1.6,1.9"/>
<path d="M241.0,80.7 L242.2,81.7 L243.5,82.6 L244.8,83.5 L246.1,84.4 L247.4,85.3 L248.7,86.2 L250.0,87.1 L251.3,88.0 L252.6,89.0 L253.9,89.9 L255.2,90.8 L256.5,91.7 L257.8,92.5 L259.2,93.4 L260.5,94.2 L261.9,95.1 L263.2,95.9 L264.6,96.7 L266.0,97.4 L267.4,98.2 L268.8,99.0 L270.2,99.7 L271.6,100.4 L273.0,101.2 L274.4,101.9 L275.8,102.6 L277.2,103.3 L278.7,104.0 L280.1,104.7 L281.5,105.5 L282.9,106.2 L284.4,106.9 L285.8,107.5 L287.2,108.2 L288.7,108.8 L290.2,109.4 L291.6,110.0 L293.1,110.6 L294.6,111.1 L296.1,111.6 L297.6,112.2 L299.1,112.7 L300.6,113.2 L302.1,113.7 L303.6,114.3 L305.1,114.8 L306.6,115.3 L308.1,115.8 L309.6,116.3 L311.1,116.9 L312.6,117.4 L314.1,117.9 L315.6,118.4 L317.1,118.8 L318.6,119.3 L320.2,119.8 L321.7,120.2 L323.2,120.7 L324.7,121.1 L326.2,121.6 L327.8,122.0 L329.3,122.4 L330.8,122.8 L332.4,123.2 L333.9,123.6 L335.4,124.0 L337.0,124.4 L338.5,124.8 L340.1,125.2 L341.6,125.6 L343.1,126.0 L344.7,126.3 L346.2,126.7 L347.8,127.0 L349.3,127.4 L350.9,127.7 L352.4,128.0 L354.0,128.4 L355.5,128.7 L357.1,129.0 L358.6,129.3 L360.2,129.6 L361.8,129.9 L363.3,130.2 L364.9,130.5 L366.4,130.8 L368.0,131.1 L369.6,131.3 L371.1,131.6 L372.7,131.9 L374.3,132.2 L375.8,132.5 L377.4,132.7 L378.9,133.0 L380.5,133.2 L382.1,133.5 L383.6,133.7 L385.2,133.9 L386.8,134.2 L388.4,134.4 L389.9,134.6 L391.5,134.8 L393.1,135.0 L394.7,135.2 L396.2,135.4 L397.8,135.6 L399.4,135.8 L401.0,135.9 L402.5,136.1 L404.1,136.3 L405.7,136.5 L407.3,136.7 L408.8,136.8 L410.4,137.0 L412.0,137.2 L413.6,137.3 L415.2,137.5 L416.7,137.7 L418.3,137.8 L419.9,138.0 L421.5,138.1 L423.1,138.2 L424.6,138.4 L426.2,138.5 L427.8,138.6 L429.4,138.7 L431.0,138.9 L432.5,139.0 L434.1,139.1 L435.7,139.2 L437.3,139.3 L438.9,139.4 L440.5,139.6 L442.0,139.7 L443.6,139.8 L445.2,139.9 L446.8,140.0 L448.4,140.1 L450.0,140.2 L451.5,140.4 L453.1,140.5 L454.7,140.6 L456.3,140.7 L457.9,140.8 L459.5,140.9 L461.0,141.0 L462.6,141.1 L464.2,141.2 L465.8,141.3 L467.4,141.3 L469.0,141.4 L470.5,141.5 L472.1,141.6 L473.7,141.6 L475.3,141.7 L476.9,141.8 L478.5,141.8 L480.1,141.9 L481.6,142.0 L483.2,142.0 L484.8,142.1 L486.4,142.1 L488.0,142.2 L489.6,142.2 L491.2,142.2 L492.7,142.3 L494.3,142.3 L495.9,142.4 L497.5,142.4 L499.1,142.5 L500.7,142.5 L502.3,142.6 L503.9,142.6 L505.4,142.7 L507.0,142.7 L508.6,142.8 L510.2,142.9 L511.8,142.9 L513.4,143.0 L514.9,143.1 L516.5,143.2 L518.1,143.2 L519.7,143.3 L521.3,143.4 L522.9,143.5 L524.5,143.6 L526.0,143.7 L527.6,143.7 L529.2,143.8 L530.8,143.9 L532.4,144.0 L534.0,144.0 L535.6,144.1 L537.1,144.1 L538.7,144.2 L540.3,144.3 L541.9,144.3 L543.5,144.4 L545.1,144.4 L546.7,144.4 L548.2,144.5 L549.8,144.5 L551.4,144.5 L553.0,144.6 L554.6,144.6 L556.2,144.6 L557.8,144.7 L559.3,144.7 L560.9,144.7 L562.5,144.7 L564.1,144.8 L565.7,144.8 L567.3,144.8 L568.9,144.8 L570.5,144.8 L572.0,144.9 L573.6,144.9 L575.2,144.9 L576.8,144.9 L578.4,144.9 L580.0,144.9 L581.6,144.9 L583.1,144.9 L584.7,144.9 L586.3,145.0 L587.9,145.0 L589.5,145.0 L591.1,145.0 L592.7,145.0 L594.3,145.0 L595.8,145.0 L597.4,145.0 L599.0,145.0 L600.6,145.0 L602.2,145.0 L603.8,145.0 L605.4,145.0 L607.0,145.0 L608.5,145.0 L610.1,145.0 L611.7,145.0 L613.3,145.0 L614.9,145.0 L616.5,145.0 L618.1,145.0 L619.6,145.0 L621.2,144.9 L622.8,144.9 L624.4,144.9 L626.0,144.9 L627.6,144.9 L629.2,144.9 L630.8,144.9 L632.3,144.9 L633.9,144.9 L635.5,144.9 L637.1,144.9 L638.7,144.8 L640.3,144.8 L641.9,144.8 L643.4,144.8 L645.0,144.8 L646.6,144.8 L648.2,144.8 L649.8,144.8 L651.4,144.7 L653.0,144.7 L654.6,144.7 L656.1,144.7 L657.7,144.7 L659.3,144.7 L660.9,144.7 L662.5,144.6 L664.1,144.6 L665.7,144.6 L667.2,144.6 L668.8,144.6 L670.4,144.6 L672.0,144.5 L673.6,144.5 L675.2,144.5 L676.8,144.5 L678.4,144.5 L679.9,144.4 L681.5,144.4 L683.1,144.4 L684.7,144.4 L686.3,144.4 L687.9,144.3 L689.5,144.3 L691.0,144.3 L692.6,144.3 L694.2,144.3 L695.8,144.2 L697.4,144.2 L699.0,144.2 L700.6,144.2 L702.2,144.1 L703.7,144.1 L705.3,144.1 L706.9,144.1 L708.5,144.1 L710.1,144.0 L711.7,144.0 L713.3,144.0 L714.8,144.0 L716.4,143.9 L718.0,143.9 L719.6,143.9 L721.2,143.9 L722.8,143.8 L724.4,143.8 L726.0,143.8 L727.5,143.7 L729.1,143.7 L730.7,143.7 L732.3,143.7 L733.9,143.6 L735.5,143.6 L737.1,143.6 L738.6,143.6 L740.2,143.5 L741.8,143.5 L743.4,143.5 L745.0,143.4 L746.6,143.4 L748.2,143.4 L749.8,143.3 L751.3,143.3 L752.9,143.3 L754.5,143.3 L756.1,143.2 L757.7,143.2 L759.3,143.2 L760.9,143.1 L762.4,143.1 L764.0,143.1 L765.6,143.0 L767.2,143.0 L768.8,143.0 L770.4,142.9 L772.0,142.9 L773.5,142.9 L775.1,142.8 L776.7,142.8 L778.3,142.8 L779.9,142.7 L781.5,142.7 L783.1,142.7 L784.7,142.6 L786.2,142.6 L787.8,142.6 L789.4,142.5 L791.0,142.5" stroke="#ff4d00" stroke-width="1.0" stroke-dasharray="2.4,3.3"/>
<path d="M267.3,27.6 L268.0,28.8 L268.7,30.0 L269.5,31.2 L270.3,32.4 L271.1,33.5 L272.0,34.6 L272.8,35.7 L273.7,36.8 L274.5,37.9 L275.4,39.0 L276.3,40.1 L277.2,41.2 L278.1,42.2 L279.0,43.3 L280.0,44.4 L280.9,45.4 L281.8,46.5 L282.6,47.6 L283.5,48.7 L284.4,49.8 L285.3,50.9 L286.2,52.0 L287.1,53.0 L288.0,54.1 L288.9,55.2 L289.8,56.2 L290.8,57.2 L291.7,58.3 L292.7,59.3 L293.6,60.3 L294.6,61.4 L295.5,62.4 L296.4,63.5 L297.3,64.5 L298.2,65.6 L299.1,66.7 L300.0,67.8 L301.0,68.8 L301.9,69.8 L302.9,70.8 L304.0,71.8 L305.0,72.7 L306.1,73.6 L307.1,74.5 L308.2,75.5 L309.2,76.4 L310.3,77.3 L311.3,78.3 L312.4,79.2 L313.4,80.1 L314.5,81.1 L315.5,82.0 L316.6,82.9 L317.7,83.8 L318.8,84.6 L319.9,85.5 L321.0,86.4 L322.1,87.2 L323.2,88.1 L324.4,88.9 L325.5,89.7 L326.7,90.5 L327.8,91.3 L329.0,92.1 L330.2,92.8 L331.4,93.5 L332.6,94.3 L333.8,95.0 L335.0,95.7" stroke="#00ffff" stroke-width="0.9" stroke-dasharray="3.5,1,0.8,1"/>
<path d="M335.0,95.7 L336.2,96.4 L337.4,97.1 L338.6,97.8 L339.9,98.5 L341.1,99.2 L342.3,99.9 L343.5,100.6 L344.7,101.2 L346.0,101.9 L347.2,102.6 L348.5,103.2 L349.7,103.9 L351.0,104.5 L352.2,105.1 L353.5,105.7 L354.8,106.3 L356.0,106.8 L357.3,107.4 L358.6,107.9 L359.9,108.5 L361.2,109.0 L362.5,109.5 L363.8,110.0 L365.1,110.5 L366.4,111.0 L367.7,111.6 L369.0,112.1 L370.3,112.6 L371.6,113.2 L373.0,113.6 L374.3,114.1 L375.6,114.5 L377.0,114.9 L378.3,115.3 L379.7,115.7 L381.0,116.0 L382.4,116.4 L383.7,116.8 L385.1,117.1 L386.4,117.5 L387.8,117.9 L389.1,118.3 L390.5,118.7 L391.8,119.0 L393.2,119.4 L394.5,119.8 L395.9,120.2 L397.2,120.6 L398.6,121.0 L399.9,121.4 L401.3,121.7 L402.6,122.1 L404.0,122.4 L405.3,122.8 L406.7,123.1 L408.1,123.5 L409.4,123.8 L410.8,124.1 L412.1,124.4 L413.5,124.7 L414.9,125.0 L416.3,125.3 L417.6,125.6 L419.0,125.9 L420.4,126.2 L421.7,126.5 L423.1,126.7 L424.5,127.0 L425.9,127.3 L427.3,127.6 L428.6,127.8 L430.0,128.1 L431.4,128.3 L432.8,128.6 L434.2,128.8 L435.5,129.0 L436.9,129.3 L438.3,129.5 L439.7,129.7 L441.1,129.9 L442.5,130.1 L443.8,130.3 L445.2,130.5 L446.6,130.7 L448.0,130.9 L449.4,131.1 L450.8,131.3 L452.2,131.5 L453.6,131.6 L455.0,131.8 L456.4,132.0 L457.7,132.1 L459.1,132.3 L460.5,132.5 L461.9,132.6 L463.3,132.8 L464.7,132.9 L466.1,133.1 L467.5,133.2 L468.9,133.3 L470.3,133.5 L471.7,133.6 L473.1,133.8 L474.5,133.9 L475.9,134.1 L477.3,134.2 L478.7,134.4 L480.1,134.5 L481.5,134.7 L482.8,134.8 L484.2,135.0 L485.6,135.1 L487.0,135.3 L488.4,135.5 L489.8,135.6 L491.2,135.8 L492.6,136.0 L494.0,136.1 L495.4,136.3 L496.8,136.5 L498.2,136.6 L499.6,136.8 L500.9,136.9 L502.3,137.1 L503.7,137.2 L505.1,137.4 L506.5,137.5 L507.9,137.7 L509.3,137.8 L510.7,138.0 L512.1,138.1 L513.5,138.2 L514.9,138.4 L516.3,138.5 L517.7,138.6 L519.1,138.7 L520.5,138.8 L521.9,138.9 L523.3,139.0 L524.7,139.1 L526.1,139.2 L527.5,139.3 L528.9,139.4 L530.3,139.5 L531.7,139.5 L533.1,139.6 L534.5,139.7 L535.9,139.8 L537.3,139.8 L538.7,139.9 L540.1,140.0 L541.5,140.0 L542.9,140.1 L544.3,140.2 L545.7,140.2 L547.1,140.3 L548.5,140.4 L549.9,140.4 L551.3,140.5 L552.7,140.5 L554.1,140.6 L555.5,140.6 L556.9,140.7 L558.3,140.8 L559.7,140.8 L561.1,140.9 L562.5,140.9 L563.9,141.0 L565.3,141.0 L566.7,141.1 L568.1,141.1 L569.5,141.2 L570.9,141.2 L572.3,141.3 L573.7,141.3 L575.1,141.4 L576.5,141.4 L577.9,141.5 L579.3,141.5 L580.7,141.6 L582.1,141.6 L583.5,141.6 L584.9,141.7 L586.3,141.7 L587.7,141.8 L589.1,141.8 L590.5,141.8 L591.9,141.9 L593.3,141.9 L594.7,141.9 L596.1,142.0 L597.5,142.0 L598.9,142.0 L600.3,142.1 L601.7,142.1 L603.1,142.1 L604.5,142.1 L605.9,142.2 L607.3,142.2 L608.7,142.2 L610.1,142.2 L611.5,142.2 L612.9,142.3 L614.4,142.3 L615.8,142.3 L617.2,142.3 L618.6,142.3 L620.0,142.3 L621.4,142.4 L622.8,142.4 L624.2,142.4 L625.6,142.4 L627.0,142.4 L628.4,142.4 L629.8,142.4 L631.2,142.4 L632.6,142.5 L634.0,142.5 L635.4,142.5 L636.8,142.5 L638.2,142.5 L639.6,142.5 L641.0,142.5 L642.4,142.5 L643.8,142.5 L645.2,142.5 L646.6,142.5 L648.0,142.5 L649.4,142.6 L650.8,142.6 L652.2,142.6 L653.6,142.6 L655.0,142.6 L656.4,142.6 L657.8,142.6 L659.2,142.6 L660.6,142.6 L662.0,142.6 L663.4,142.6 L664.8,142.6 L666.2,142.6 L667.6,142.6 L669.0,142.6 L670.4,142.6 L671.8,142.7 L673.2,142.7 L674.6,142.7 L676.0,142.7 L677.4,142.7 L678.8,142.7 L680.2,142.7 L681.6,142.7 L683.0,142.7 L684.5,142.7 L685.9,142.7 L687.3,142.7 L688.7,142.7 L690.1,142.7 L691.5,142.7 L692.9,142.7 L694.3,142.7 L695.7,142.7 L697.1,142.7 L698.5,142.7 L699.9,142.7 L701.3,142.7 L702.7,142.7 L704.1,142.7 L705.5,142.7 L706.9,142.7 L708.3,142.7 L709.7,142.7 L711.1,142.7 L712.5,142.7 L713.9,142.7 L715.3,142.7 L716.7,142.7 L718.1,142.7 L719.5,142.7 L720.9,142.7 L722.3,142.7 L723.7,142.7 L725.1,142.7 L726.5,142.7 L727.9,142.7 L729.3,142.7 L730.7,142.7 L732.1,142.6 L733.5,142.6 L734.9,142.6 L736.3,142.6 L737.7,142.6 L739.1,142.6 L740.5,142.6 L741.9,142.6 L743.3,142.6 L744.7,142.6 L746.1,142.6 L747.5,142.5 L748.9,142.5 L750.3,142.5 L751.7,142.5 L753.1,142.5 L754.6,142.5 L756.0,142.5 L757.4,142.4 L758.8,142.4 L760.2,142.4 L761.6,142.4 L763.0,142.4 L764.4,142.4 L765.8,142.3 L767.2,142.3 L768.6,142.3 L770.0,142.3 L771.4,142.3 L772.8,142.2 L774.2,142.2 L775.6,142.2 L777.0,142.2 L778.4,142.1 L779.8,142.1 L781.2,142.1 L782.6,142.1 L784.0,142.0 L785.4,142.0 L786.8,142.0 L788.2,142.0 L789.6,141.9 L791.0,141.9" stroke="#00ffff" stroke-width="0.9" stroke-dasharray="6.5,1.5,1,2"/>
<path d="M295.5,27.6 L296.1,28.8 L296.7,30.0 L297.3,31.2 L297.9,32.4 L298.5,33.6 L299.1,34.8 L299.7,36.0 L300.3,37.2 L300.9,38.4 L301.5,39.7 L302.2,40.9 L302.8,42.0 L303.4,43.2 L304.1,44.4 L304.8,45.6 L305.5,46.7 L306.2,47.8 L306.9,49.0 L307.7,50.1 L308.5,51.2 L309.2,52.3 L310.0,53.4 L310.7,54.5 L311.5,55.6 L312.2,56.8 L313.0,57.9 L313.7,59.0 L314.4,60.2 L315.1,61.3 L315.9,62.4 L316.6,63.6 L317.4,64.7 L318.2,65.7 L319.0,66.8 L319.9,67.9 L320.7,68.9 L321.6,69.9 L322.5,71.0 L323.3,72.0 L324.2,73.0 L325.1,74.0 L326.0,75.1 L326.9,76.1 L327.8,77.1 L328.7,78.1 L329.6,79.1 L330.5,80.0 L331.5,81.0 L332.4,82.0 L333.4,82.9 L334.3,83.9 L335.3,84.8 L336.3,85.7 L337.3,86.6 L338.3,87.5 L339.4,88.3 L340.4,89.2 L341.5,90.0 L342.5,90.9 L343.6,91.7 L344.6,92.6 L345.7,93.4 L346.7,94.2 L347.8,95.0" stroke="#00ff00" stroke-width="0.9" stroke-dasharray="3.2,1.6"/>
<path d="M347.8,95.0 L348.9,95.8 L350.0,96.6 L351.1,97.3 L352.3,98.1 L353.4,98.8 L354.6,99.5 L355.7,100.2 L356.9,100.8 L358.0,101.5 L359.2,102.2 L360.4,102.9 L361.5,103.6 L362.7,104.3 L363.8,105.0 L365.0,105.6 L366.2,106.3 L367.4,106.9 L368.6,107.5 L369.8,108.1 L371.0,108.7 L372.2,109.2 L373.5,109.8 L374.7,110.4 L375.9,110.9 L377.1,111.5 L378.4,112.0 L379.6,112.6 L380.8,113.2 L382.1,113.7 L383.3,114.2 L384.5,114.7 L385.8,115.3 L387.0,115.7 L388.3,116.2 L389.6,116.7 L390.8,117.2 L392.1,117.7 L393.4,118.1 L394.6,118.6 L395.9,119.0 L397.2,119.5 L398.4,119.9 L399.7,120.4 L401.0,120.8 L402.2,121.3 L403.5,121.7 L404.8,122.1 L406.1,122.6 L407.4,123.0 L408.6,123.4 L409.9,123.8 L411.2,124.2 L412.5,124.6 L413.8,124.9 L415.1,125.3 L416.4,125.7 L417.7,126.0 L419.0,126.4 L420.3,126.7 L421.6,127.1 L422.9,127.4 L424.2,127.7 L425.5,128.0 L426.8,128.3 L428.2,128.6 L429.5,128.9 L430.8,129.2 L432.1,129.5 L433.4,129.7 L434.8,130.0 L436.1,130.2 L437.4,130.5 L438.7,130.7 L440.1,130.9 L441.4,131.2 L442.7,131.4 L444.1,131.6 L445.4,131.8 L446.7,132.1 L448.0,132.3 L449.4,132.5 L450.7,132.7 L452.0,133.0 L453.4,133.2 L454.7,133.4 L456.0,133.7 L457.3,133.9 L458.7,134.1 L460.0,134.3 L461.3,134.5 L462.7,134.8 L464.0,135.0 L465.3,135.2 L466.7,135.4 L468.0,135.6 L469.3,135.8 L470.7,136.0 L472.0,136.2 L473.3,136.3 L474.7,136.5 L476.0,136.7 L477.3,136.9 L478.7,137.0 L480.0,137.2 L481.3,137.4 L482.7,137.5 L484.0,137.7 L485.4,137.8 L486.7,138.0 L488.0,138.1 L489.4,138.3 L490.7,138.4 L492.1,138.5 L493.4,138.6 L494.7,138.8 L496.1,138.9 L497.4,139.0 L498.8,139.1 L500.1,139.3 L501.5,139.4 L502.8,139.5 L504.1,139.6 L505.5,139.7 L506.8,139.8 L508.2,139.9 L509.5,140.0 L510.9,140.1 L512.2,140.2 L513.5,140.3 L514.9,140.4 L516.2,140.5 L517.6,140.5 L518.9,140.6 L520.3,140.7 L521.6,140.8 L523.0,140.9 L524.3,141.0 L525.7,141.0 L527.0,141.1 L528.3,141.2 L529.7,141.3 L531.0,141.4 L532.4,141.4 L533.7,141.5 L535.1,141.6 L536.4,141.6 L537.8,141.7 L539.1,141.8 L540.5,141.9 L541.8,141.9 L543.1,142.0 L544.5,142.1 L545.8,142.2 L547.2,142.2 L548.5,142.3 L549.9,142.4 L551.2,142.5 L552.6,142.5 L553.9,142.6 L555.3,142.7 L556.6,142.8 L557.9,142.8 L559.3,142.9 L560.6,143.0 L562.0,143.1 L563.3,143.1 L564.7,143.2 L566.0,143.3 L567.4,143.4 L568.7,143.4 L570.1,143.5 L571.4,143.6 L572.7,143.6 L574.1,143.7 L575.4,143.7 L576.8,143.8 L578.1,143.8 L579.5,143.9 L580.8,144.0 L582.2,144.0 L583.5,144.0 L584.9,144.1 L586.2,144.1 L587.6,144.2 L588.9,144.2 L590.2,144.3 L591.6,144.3 L592.9,144.3 L594.3,144.4 L595.6,144.4 L597.0,144.4 L598.3,144.5 L599.7,144.5 L601.0,144.5 L602.4,144.5 L603.7,144.6 L605.1,144.6 L606.4,144.6 L607.8,144.7 L609.1,144.7 L610.5,144.7 L611.8,144.7 L613.2,144.7 L614.5,144.8 L615.8,144.8 L617.2,144.8 L618.5,144.8 L619.9,144.8 L621.2,144.8 L622.6,144.8 L623.9,144.9 L625.3,144.9 L626.6,144.9 L628.0,144.9 L629.3,144.9 L630.7,144.9 L632.0,144.9 L633.4,144.9 L634.7,144.9 L636.1,144.9 L637.4,144.9 L638.8,144.9 L640.1,144.9 L641.4,144.9 L642.8,144.9 L644.1,144.9 L645.5,144.9 L646.8,144.9 L648.2,144.9 L649.5,144.9 L650.9,144.9 L652.2,144.9 L653.6,144.9 L654.9,144.9 L656.3,144.9 L657.6,144.9 L659.0,144.8 L660.3,144.8 L661.7,144.8 L663.0,144.8 L664.4,144.8 L665.7,144.8 L667.0,144.8 L668.4,144.7 L669.7,144.7 L671.1,144.7 L672.4,144.7 L673.8,144.7 L675.1,144.7 L676.5,144.6 L677.8,144.6 L679.2,144.6 L680.5,144.6 L681.9,144.6 L683.2,144.5 L684.6,144.5 L685.9,144.5 L687.3,144.5 L688.6,144.5 L690.0,144.4 L691.3,144.4 L692.6,144.4 L694.0,144.4 L695.3,144.3 L696.7,144.3 L698.0,144.3 L699.4,144.3 L700.7,144.2 L702.1,144.2 L703.4,144.2 L704.8,144.1 L706.1,144.1 L707.5,144.1 L708.8,144.1 L710.2,144.0 L711.5,144.0 L712.9,144.0 L714.2,144.0 L715.6,143.9 L716.9,143.9 L718.2,143.9 L719.6,143.8 L720.9,143.8 L722.3,143.8 L723.6,143.8 L725.0,143.7 L726.3,143.7 L727.7,143.7 L729.0,143.6 L730.4,143.6 L731.7,143.6 L733.1,143.5 L734.4,143.5 L735.8,143.5 L737.1,143.5 L738.5,143.4 L739.8,143.4 L741.2,143.4 L742.5,143.3 L743.8,143.3 L745.2,143.3 L746.5,143.3 L747.9,143.2 L749.2,143.2 L750.6,143.2 L751.9,143.1 L753.3,143.1 L754.6,143.1 L756.0,143.1 L757.3,143.0 L758.7,143.0 L760.0,143.0 L761.4,143.0 L762.7,142.9 L764.1,142.9 L765.4,142.9 L766.8,142.9 L768.1,142.8 L769.4,142.8 L770.8,142.8 L772.1,142.8 L773.5,142.7 L774.8,142.7 L776.2,142.7 L777.5,142.7 L778.9,142.7 L780.2,142.6 L781.6,142.6 L782.9,142.6 L784.3,142.6 L785.6,142.6 L787.0,142.5 L788.3,142.5 L789.7,142.5 L791.0,142.5" stroke="#00ff00" stroke-width="0.9" stroke-dasharray="6,2.5"/>
</g>
<g fill="none" stroke-width="1">
<path d="M700.6,400.5 L763.4,400.5" stroke="#ff0000" stroke-width="0.8"/>
<path d="M700.6,423.5 L763.4,423.5" stroke="#0000ff" stroke-width="0.85" stroke-dasharray="2.4,3.3"/>
<path d="M700.6,446.6 L763.4,446.6" stroke="#00ffff" stroke-width="1.2" stroke-dasharray="6.5,1.5,1,2"/>
<path d="M700.6,469.8 L763.4,469.8" stroke="#ff00ff" stroke-width="1.0" stroke-dasharray="1.1,1.15"/>
<path d="M700.6,492.8 L763.4,492.8" stroke="#808080" stroke-width="1.4" stroke-dasharray="2.5,1.7,2.8,4.5"/>
</g>
<path d="M131.8,124.2 h7.6 M791.2,124.2 h-7.6 M131.8,221.0 h7.6 M791.2,221.0 h-7.6 M131.8,317.8 h7.6 M791.2,317.8 h-7.6 M131.8,414.6 h7.6 M791.2,414.6 h-7.6 M146.1,511.4 v-7.6 M146.1,27.4 v7.6 M243.2,511.4 v-3.8 M243.2,27.4 v3.8 M300.0,511.4 v-3.8 M300.0,27.4 v3.8 M340.3,511.4 v-3.8 M340.3,27.4 v3.8 M371.6,511.4 v-3.8 M371.6,27.4 v3.8 M397.1,511.4 v-3.8 M397.1,27.4 v3.8 M418.7,511.4 v-3.8 M418.7,27.4 v3.8 M437.4,511.4 v-3.8 M437.4,27.4 v3.8 M453.9,511.4 v-3.8 M453.9,27.4 v3.8 M468.6,511.4 v-7.6 M468.6,27.4 v7.6 M565.7,511.4 v-3.8 M565.7,27.4 v3.8 M622.5,511.4 v-3.8 M622.5,27.4 v3.8 M662.8,511.4 v-3.8 M662.8,27.4 v3.8 M694.1,511.4 v-3.8 M694.1,27.4 v3.8 M719.6,511.4 v-3.8 M719.6,27.4 v3.8 M741.2,511.4 v-3.8 M741.2,27.4 v3.8 M759.9,511.4 v-3.8 M759.9,27.4 v3.8 M776.4,511.4 v-3.8 M776.4,27.4 v3.8" stroke="#000" stroke-width="1.1" fill="none"/>
<rect x="131.8" y="27.4" width="659.4" height="484.0" fill="none" stroke="#000" stroke-width="1.5"/>
</svg>
</body></html>
